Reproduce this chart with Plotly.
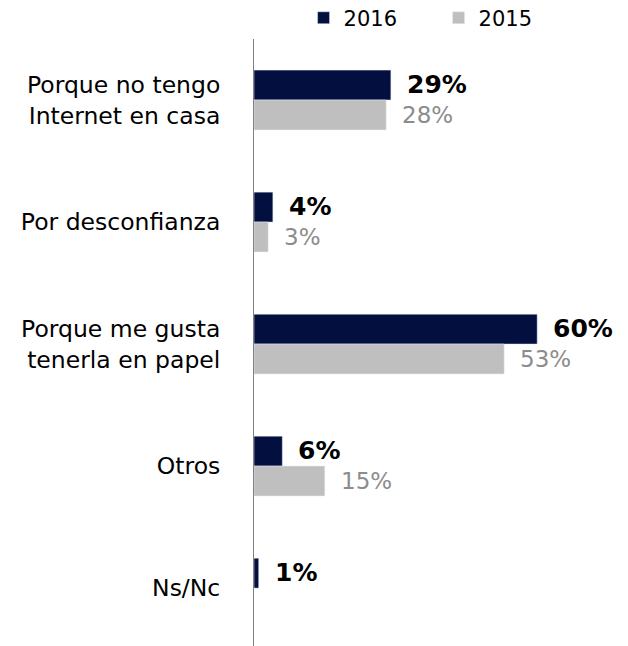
import plotly.graph_objects as go

categories = ["Porque no tengo<br>Internet en casa", "Por desconfianza",
              "Porque me gusta<br>tenerla en papel", "Otros", "Ns/Nc"]
values_2016 = [29, 4, 60, 6, 1]
values_2015 = [28, 3, 53, 15, None]

C2016 = "#03103f"
C2015 = "#bfbfbf"
FONT = "DejaVu Sans"

fig = go.Figure()
fig.add_trace(go.Bar(name="2016", y=categories, x=values_2016, orientation="h",
                     marker_color=C2016, hoverinfo="skip"))
fig.add_trace(go.Bar(name="2015", y=categories, x=values_2015, orientation="h",
                     marker_color=C2015, hoverinfo="skip"))

annotations = []
for i, v in enumerate(values_2016):
    annotations.append(dict(x=v, y=i - 0.125, xref="x", yref="y", text=f"<b>{v}%</b>",
                            showarrow=False, xanchor="left", xshift=14,
                            font=dict(family=FONT, size=25, color="#000000")))
for i, v in enumerate(values_2015):
    if v is None:
        continue
    annotations.append(dict(x=v, y=i + 0.125, xref="x", yref="y", text=f"{v}%",
                            showarrow=False, xanchor="left", xshift=14,
                            font=dict(family=FONT, size=23, color="#8c8c8c")))

fig.update_layout(
    width=628, height=646,
    margin=dict(l=246, r=28, t=31, b=0, autoexpand=False),
    paper_bgcolor="white", plot_bgcolor="white",
    barmode="group", bargap=0.51, bargroupgap=0,
    font=dict(family=FONT, size=23.5, color="#000000"),
    showlegend=True,
    legend=dict(orientation="h", x=0.14, y=1.034, xanchor="left", yanchor="middle",
                font=dict(family=FONT, size=21), itemwidth=30, traceorder="normal",
                entrywidth=90, entrywidthmode="pixels"),
    annotations=annotations,
    xaxis=dict(range=[0, 75], visible=False, fixedrange=True),
    yaxis=dict(type="category", range=[4.54, -0.5], showline=True, linecolor="#808080",
               linewidth=1, ticks="", showgrid=False, ticklabelstandoff=28,
               tickfont=dict(family=FONT, size=23.5, color="#000000")),
)

fig.write_html("out.html")
